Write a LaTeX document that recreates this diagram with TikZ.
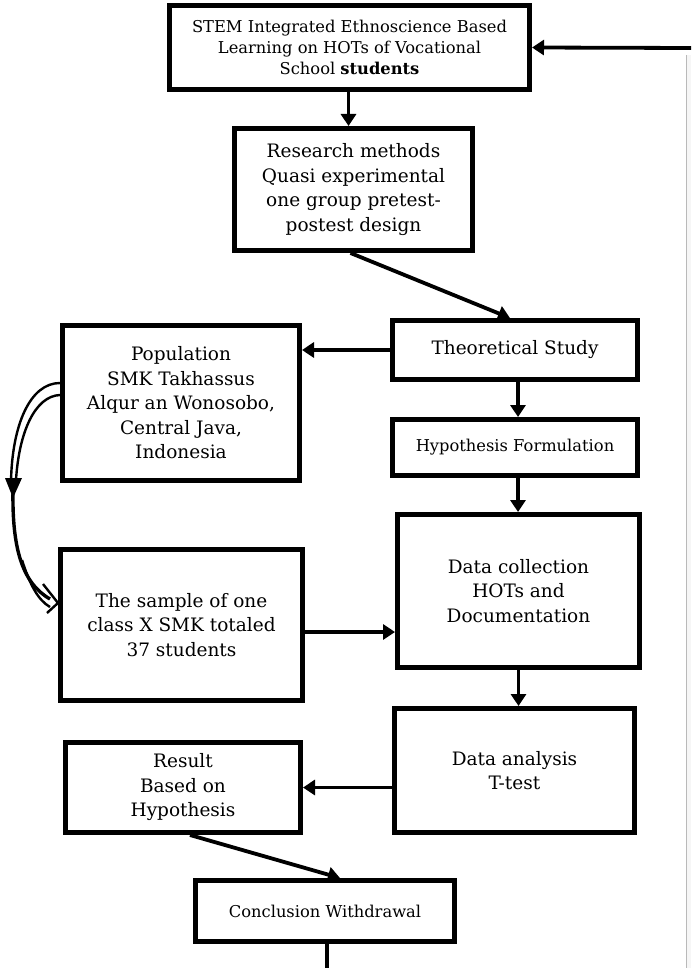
\documentclass[tikz,border=0pt]{standalone}
\usepackage{fontspec}
\setmainfont{DejaVu Serif}
\usetikzlibrary{arrows.meta}
\begin{document}
\begin{tikzpicture}[x=1pt,y=-1pt,
  box/.style={draw, line width=5pt, align=center, inner sep=0pt,
    font=\fontsize{18.5}{24.5}\selectfont},
  sbox/.style={box, font=\fontsize{16.3}{21}\selectfont},
  conn/.style={line width=3.8pt, -{Triangle[width=15pt,length=12pt]}},
  band/.style={line width=2.4pt},
]
\useasboundingbox (0,0) rectangle (691,968);
% page edge
\fill[gray!7] (687,55) rectangle (691,968);
\draw[gray!55, line width=1pt] (686.5,55) -- (686.5,968);

% boxes
\node[sbox, minimum width=360pt, minimum height=84pt] (top) at (349.5,47.5)
  {STEM Integrated Ethnoscience Based\\Learning on HOTs of Vocational\\School \textbf{students}};
\node[box, minimum width=238pt, minimum height=122pt] (research) at (353.5,189.5)
  {Research methods\\Quasi experimental\\one group pretest-\\postest design};
\node[box, minimum width=245pt, minimum height=59pt] (theo) at (515,350)
  {Theoretical Study};
\node[sbox, minimum width=245pt, minimum height=56pt] (hyp) at (515,447.5)
  {Hypothesis Formulation};
\node[box, minimum width=242pt, minimum height=153pt] (coll) at (518.5,591)
  {Data collection\\HOTs and\\Documentation};
\node[box, minimum width=240pt, minimum height=124pt] (anal) at (514.5,770.5)
  {Data analysis\\T-test};
\node[box, minimum width=237pt, minimum height=155pt] (pop) at (181,403)
  {Population\\SMK Takhassus\\Alqur an Wonosobo,\\Central Java,\\Indonesia};
\node[box, minimum width=242pt, minimum height=151pt] (sample) at (181.5,625)
  {The sample of one\\class X SMK totaled\\37 students};
\node[box, minimum width=235pt, minimum height=90pt] (result) at (183,787.5)
  {Result\\Based on\\Hypothesis};
\node[sbox, minimum width=259pt, minimum height=61pt] (concl) at (325,911)
  {Conclusion Withdrawal};
\coordinate (feed) at (691,48);
\coordinate (bottom) at (327,968);

% connectors
\draw[conn] ([xshift=-1pt]top.south) -- ([xshift=-1pt]top.south |- research.north);
\draw[conn] ([xshift=-3pt]research.south) -- ([xshift=-5pt]theo.north);
\draw[conn] (theo.west) -- (theo.west -| pop.east);
\draw[conn] ([xshift=3pt]theo.south) -- ([xshift=3pt]theo.south |- hyp.north);
\draw[conn] ([xshift=3pt]hyp.south) -- ([xshift=3pt]hyp.south |- coll.north);
\draw[conn] (coll.south) -- (coll.south |- anal.north);
\draw[conn] ([yshift=-7pt]sample.east) -- ([yshift=-7pt]sample.east -| coll.west);
\draw[conn] (anal.west |- result.east) -- (result.east);
\draw[conn] ([xshift=7pt]result.south) -- ([xshift=15pt]concl.north);
\draw[line width=3.8pt] ([xshift=2pt]concl.south) -- (bottom);
\draw[conn] (feed) -- (top.east);

% curved band arrow population -> sample
\draw[band] ([yshift=20pt]pop.west) .. controls (30,383) and (12,425) .. (11,482);
\draw[band] ([yshift=8pt]pop.west) .. controls (35,396) and (19,432) .. (16,480);
\fill (5,478) -- (22,478) -- (13,498) -- cycle;
\draw[line width=3.4pt] (13,490) .. controls (12,548) and (22,583) .. (50,599);
\draw[band] (22,560) .. controls (30,585) and (38,600) .. (50,607);
\draw[line width=2.4pt, line join=miter] (43,584) -- ([yshift=22pt]sample.west) -- (47,613);
\end{tikzpicture}
\end{document}
